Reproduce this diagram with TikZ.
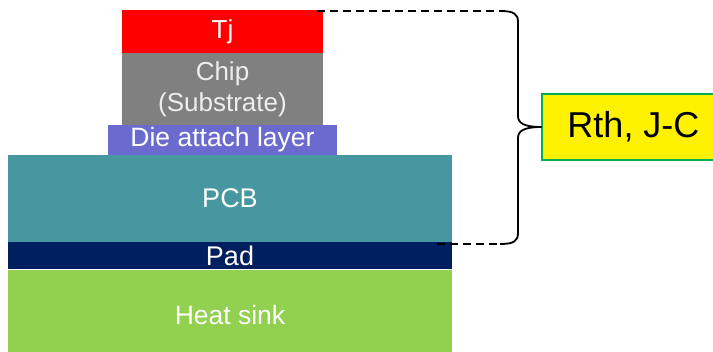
\documentclass[tikz,border=0pt]{standalone}
\usepackage{fontspec}
\setmainfont{Liberation Sans}
\definecolor{chipgray}{HTML}{808080}
\definecolor{diecol}{HTML}{6B6BCF}
\definecolor{pcbcol}{HTML}{46979F}
\definecolor{padcol}{HTML}{001F5F}
\definecolor{sinkcol}{HTML}{92D050}
\definecolor{boxgreen}{HTML}{00B050}
\definecolor{chiptext}{HTML}{EEEEEE}
\begin{document}
\begin{tikzpicture}[x=1pt,y=1pt,
  layer/.style={inner sep=0pt, draw=none, text=white, align=center},
  dashconn/.style={draw=black, line width=1.5pt, dash pattern=on 8pt off 5pt},
  bracepath/.style={draw=black, line width=1.8pt, line join=round}]
\clip (0,0) rectangle (713,352);
\fill[white] (0,0) rectangle (713,352);
% layers
\node[layer, fill=red, minimum width=201pt, minimum height=43pt,
  font=\fontsize{26}{30}\selectfont] (tj) at (222.5,320.5) {Tj};
\node[layer, fill=chipgray, minimum width=201pt, minimum height=72pt, text=chiptext,
  font=\fontsize{26}{31}\selectfont] (chip) at (222.5,263) {Chip\\(Substrate)};
\node[layer, fill=diecol, minimum width=229pt, minimum height=30pt,
  font=\fontsize{26.5}{28}\selectfont] (die) at (222.5,212) {Die attach layer};
\node[layer, fill=pcbcol, minimum width=444pt, minimum height=87pt,
  font=\fontsize{27}{30}\selectfont] (pcb) at (230,153.5) {PCB};
\node[layer, fill=padcol, minimum width=444pt, minimum height=27pt,
  font=\fontsize{27}{30}\selectfont] (pad) at (230,96.5) {Pad};
\node[layer, fill=sinkcol, minimum width=444pt, minimum height=90pt,
  font=\fontsize{26.5}{30}\selectfont] (sink) at (230,37) {Heat sink};
% Rth box
\node[fill=yellow, draw=boxgreen, line width=1.5pt, minimum width=183pt, minimum height=66pt,
  inner sep=0pt, font=\fontsize{36}{40}\selectfont] (rth) at (633.5,225) {Rth, J-C};
% dashed lines and brace
\coordinate (topA) at (317,341);
\coordinate (topB) at (500,341);
\coordinate (botA) at (437,108);
\coordinate (botB) at (500,108);
\coordinate (tip) at (rth.west);
\draw[dashconn] (topA) -- (topB);
\draw[dashconn] (botA) -- (botB);
\draw[bracepath] (topB) .. controls (514,341) and (518,338) .. (518,330)
  -- (518,236) .. controls (518,229) and (524,225) .. (tip)
  .. controls (524,225) and (518,221) .. (518,214)
  -- (518,119) .. controls (518,111) and (514,108) .. (botB);
\end{tikzpicture}
\end{document}
